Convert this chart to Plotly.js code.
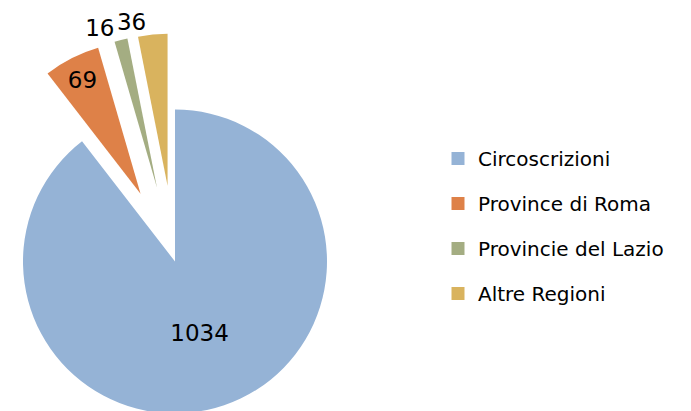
<!DOCTYPE html>
<html>
<head>
<meta charset="utf-8">
<script src="https://cdn.plot.ly/plotly-3.0.1.min.js"></script>
<style>
  html, body { margin: 0; padding: 0; overflow: hidden; background: #ffffff; width: 691px; height: 411px; }
  #chart { position: absolute; left: -60px; top: 0; width: 751px; height: 495px; }
</style>
</head>
<body>
<div id="chart"></div>
<script>
// ---- data ----
const categories = ['Circoscrizioni', 'Province di Roma', 'Provincie del Lazio', 'Altre Regioni'];
const counts = [1034, 69, 16, 36];

// ---- styles ----
const sliceColors = ['#95B3D6', '#DE8148', '#A4AD82', '#D9B35E'];
const clearColors = ['rgba(0,0,0,0)', 'rgba(0,0,0,0)', 'rgba(0,0,0,0)', 'rgba(0,0,0,0)'];
const pulls = [0, 0.5, 0.5, 0.5];
const textPositions = ['inside', 'inside', 'outside', 'outside'];
// labels split over two identical pies so the two small outside labels are not pushed apart
const templatesA = ['%{value}', '%{value}', '%{value}', ''];
const templatesB = ['', '', '', '%{value}'];
const FONT = 'DejaVu Sans, sans-serif';

const W = 751, H = 495;

function makePie(colors, templates) {
  return {
    type: 'pie',
    labels: categories,
    values: counts,
    sort: false,
    direction: 'clockwise',
    rotation: 0,
    pull: pulls,
    marker: { colors: colors, line: { width: 0 } },
    texttemplate: templates,
    textposition: textPositions,
    insidetextorientation: 'horizontal',
    textfont: { family: FONT, size: 23, color: '#000000' },
    outsidetextfont: { family: FONT, size: 23, color: '#000000' },
    showlegend: false,
    hoverinfo: 'label+value+percent',
    domain: { x: [7 / W, 463 / W], y: [1 - 489.5 / H, 1 - 33.5 / H] }
  };
}

const pieMain = makePie(sliceColors, templatesA);
const pieLabels = makePie(clearColors, templatesB);

const legendNames = ['legend', 'legend2', 'legend3', 'legend4'];
const legendCentersPx = [158.5, 203.5, 248.5, 293.5];

const legendTraces = categories.map((c, i) => ({
  type: 'scatter',
  x: [null], y: [null],
  mode: 'markers',
  name: c,
  marker: { symbol: 'square', size: 13, color: sliceColors[i], line: { width: 0 } },
  legend: legendNames[i],
  showlegend: true,
  hoverinfo: 'skip'
}));

const layout = {
  width: W, height: H,
  margin: { l: 0, r: 0, t: 0, b: 0, pad: 0 },
  paper_bgcolor: '#ffffff',
  plot_bgcolor: '#ffffff',
  font: { family: FONT, size: 20, color: '#000000' },
  xaxis: { visible: false },
  yaxis: { visible: false },
  showlegend: true
};

legendNames.forEach((ln, i) => {
  layout[ln] = {
    x: 498 / W, xanchor: 'left',
    y: 1 - legendCentersPx[i] / H, yanchor: 'middle',
    bgcolor: 'rgba(0,0,0,0)',
    borderwidth: 0,
    font: { family: FONT, size: 20, color: '#000000' }
  };
});

Plotly.newPlot('chart', [pieMain, pieLabels].concat(legendTraces), layout, { staticPlot: true, displayModeBar: false });
</script>
</body>
</html>
